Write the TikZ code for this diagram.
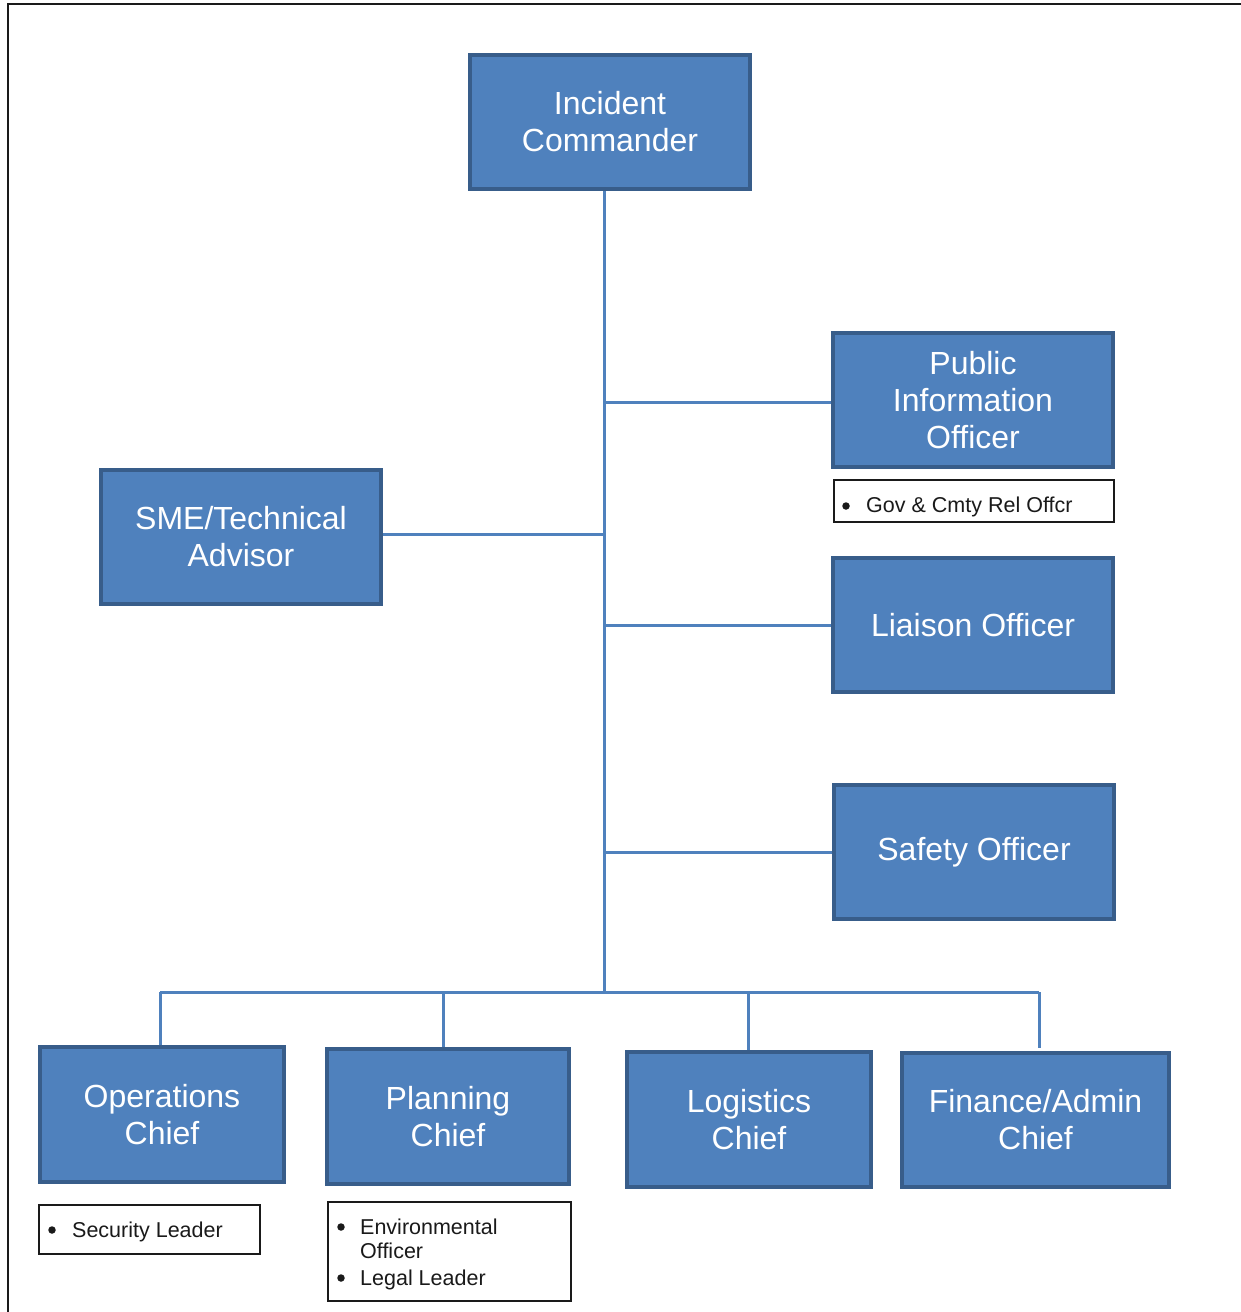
\documentclass[tikz,border=0pt]{standalone}
\usepackage{fontspec}
\setmainfont{Liberation Sans}
\definecolor{boxfill}{HTML}{4F81BD}
\definecolor{boxedge}{HTML}{385D8A}
\definecolor{textdark}{HTML}{1A1A1A}
\tikzset{
  role/.style={rectangle, draw=boxedge, line width=4pt, fill=boxfill,
    text=white, align=center, font=\fontsize{32}{37}\selectfont,
    minimum width=280pt, minimum height=134pt, inner sep=0pt},
  note/.style={rectangle, draw=textdark, line width=1.3pt, fill=white, inner sep=0pt},
  notetext/.style={anchor=base west, inner sep=0pt, text=textdark,
    font=\fontsize{21.5}{24}\selectfont},
  bulletdot/.style={circle, fill=textdark, minimum size=7.5pt, inner sep=0pt},
  link/.style={draw=boxfill, line width=3pt}
}
\begin{document}
\begin{tikzpicture}[x=1pt,y=-1pt]
\useasboundingbox (0,0) rectangle (1241,1312);
% page frame
\draw[line width=2pt, textdark] (8,1312) -- (8,4) -- (1241,4);

% command staff
\node[role] (ic) at (610,122) {Incident\\Commander};
\node[role] (pio) at (973,400) {Public\\Information\\Officer};
\node[role] (sme) at (241,537) {SME/Technical\\Advisor};
\node[role] (liaison) at (973,625) {Liaison Officer};
\node[role] (safety) at (974,852) {Safety Officer};

% general staff
\node[role, minimum width=244pt, minimum height=135pt] (ops) at (162,1114.5) {Operations\\Chief};
\node[role, minimum width=242pt, minimum height=135pt] (plan) at (448,1116.5) {Planning\\Chief};
\node[role, minimum width=244pt, minimum height=135pt] (log) at (749,1119.5) {Logistics\\Chief};
\node[role, minimum width=267pt, minimum height=134pt] (fin) at (1035.5,1120) {Finance/Admin\\Chief};

% sub-unit notes
\node[note, minimum width=280pt, minimum height=42pt] (gov) at (974,501) {};
\node[bulletdot] (govb) at (846,506) {};
\node[notetext] (govt) at (866,512) {Gov \& Cmty Rel Offcr};

\node[note, minimum width=221pt, minimum height=49pt] (sec) at (149.5,1229.5) {};
\node[bulletdot] (secb) at (52,1230) {};
\node[notetext] (sect) at (72,1237) {Security Leader};

\node[note, minimum width=243pt, minimum height=99pt] (env) at (449.5,1251.5) {};
\node[bulletdot] (envb) at (341,1227) {};
\node[notetext] (envt) at (360,1234) {Environmental};
\node[notetext] (envt2) at (360,1258) {Officer};
\node[bulletdot] (legb) at (341,1278) {};
\node[notetext] (legt) at (360,1285) {Legal Leader};

% trunk and branches
\coordinate (top) at (604,191);
\coordinate (bus) at (604,992);
\draw[link] (top) -- (bus);
\draw[link] ([yshift=-2pt]pio.west) -- ([yshift=-2pt]pio.west -| bus);
\draw[link] ([yshift=3pt]sme.east) -- ([yshift=3pt]sme.east -| bus);
\draw[link] (liaison.west) -- (liaison.west -| bus);
\draw[link] (safety.west) -- (safety.west -| bus);

% bus to general staff
\coordinate (opsd) at ([xshift=-2pt]ops.north);
\coordinate (pland) at ([xshift=-5pt]plan.north);
\coordinate (logd) at ([xshift=-1pt]log.north);
\coordinate (find) at ([xshift=3.5pt]fin.north);
\draw[link] (opsd |- bus) -- (find |- bus);
\draw[link] (opsd |- bus) -- (opsd);
\draw[link] (pland |- bus) -- (pland);
\draw[link] (logd |- bus) -- (logd);
\draw[link] (find |- bus) -- ([yshift=3pt]find);
\end{tikzpicture}
\end{document}
